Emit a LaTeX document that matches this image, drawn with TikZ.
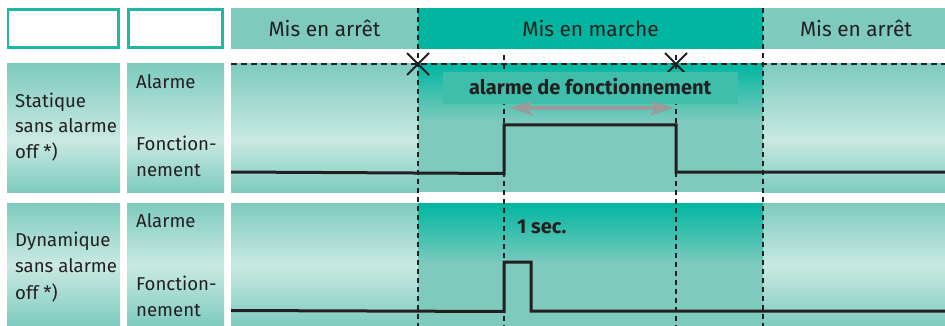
\documentclass[tikz,border=0pt]{standalone}
\usepackage{fontspec}
\setmainfont{Fira Sans}
\usetikzlibrary{arrows.meta}
\definecolor{tealL}{HTML}{7ECBBE}
\definecolor{tealD}{HTML}{00B6A1}
\definecolor{tealW}{HTML}{C9E9E2}
\definecolor{tealB}{HTML}{1DB9A5}
\definecolor{boxC}{HTML}{3FBEAB}
\definecolor{arrC}{HTML}{9B9B9B}
\definecolor{lineC}{HTML}{231F20}
\begin{document}
\begin{tikzpicture}[x=1pt,y=-1pt,
  font=\fontsize{18.6}{26}\selectfont,
  lbl/.style={anchor=base west, inner sep=0pt, text=lineC},
  hdr/.style={anchor=base, inner sep=0pt, text=lineC, font=\fontsize{20.8}{26}\selectfont},
  bld/.style={anchor=base west, inner sep=0pt, text=lineC, font=\fontsize{20}{26}\selectfont\bfseries},
  vdash/.style={draw=lineC, line width=1.8pt, dash pattern=on 5pt off 4pt},
  hdash/.style={draw=lineC, line width=1.6pt, dash pattern=on 6pt off 4pt},
  sig/.style={draw=lineC, line width=3pt, line join=miter},
  xmark/.style={draw=lineC, line width=2pt},
  dblarrow/.style={draw=arrC, line width=4pt,
    {Stealth[length=24pt,width=15pt,inset=6pt]}-{Stealth[length=24pt,width=15pt,inset=6pt]}}]
\useasboundingbox (0,0) rectangle (945,326);
% header
\draw[tealB, line width=2.2pt, fill=white] (8,9.5) rectangle (118.5,47.5);
\draw[tealB, line width=2.2pt, fill=white] (128.5,9.5) rectangle (222.5,47.5);
\fill[tealL] (231,8) rectangle (418,49);
\fill[tealD] (418,8) rectangle (763,49);
\fill[tealL] (763,8) rectangle (945,49);
% row backgrounds
\foreach \a/\b in {7/120, 127/224, 231/418, 763/945}{
  \shade[top color=tealL, bottom color=tealW] (\a,64) rectangle (\b,140);
  \shade[top color=tealW, bottom color=tealL] (\a,140) rectangle (\b,192);
  \shade[top color=tealL, bottom color=tealW] (\a,203) rectangle (\b,265);
  \shade[top color=tealW, bottom color=tealL] (\a,265) rectangle (\b,326);
}
\shade[top color=tealD, bottom color=tealL] (418,64) rectangle (763,122);
\fill[tealL] (418,122) rectangle (763,192);
\shade[top color=tealD, bottom color=tealL] (418,203) rectangle (763,265);
\fill[tealL] (418,265) rectangle (763,326);
% dashed lines
\draw[hdash] (231,64) -- (945,64);
\draw[vdash] (418,8) -- (418,326);
\draw[vdash] (763,8) -- (763,326);
\draw[vdash] (504,55) -- (504,326);
\draw[vdash] (676,55) -- (676,326);
% crosses
\draw[xmark] (407,53) -- (429,75) (407,75) -- (429,53);
\draw[xmark] (665,53) -- (687,75) (665,75) -- (687,53);
% alarm box
\fill[boxC] (443,72) rectangle (738,104);
\node[bld] (alf) at (469,95) {alarme de fonctionnement};
\coordinate (arrL) at (509,108);
\coordinate (arrR) at (674,108);
\draw[dblarrow] (arrL) -- (arrR);
% signals
\draw[sig] (231,172) -- (504,173.5) -- (504,125) -- (676,125) -- (676,172) -- (945,172);
\draw[sig] (231,310.5) -- (504,311.5) -- (504,262) -- (531,262) -- (531,311) -- (945,311);
% header texts
\node[hdr] (h1) at (324.5,36.7) {Mis en arrêt};
\node[hdr] (h2) at (590.5,36.7) {Mis en marche};
\node[hdr] (h3) at (856,36.7) {Mis en arrêt};
% row 1 labels
\node[lbl] (s1) at (15,107.3) {Statique};
\node[lbl] (s2) at (15,133) {sans alarme};
\node[lbl] (s3) at (15,159) {off *)};
\node[lbl] (a1) at (136,88.3) {Alarme};
\node[lbl] (f1) at (136,150.7) {Fonction-};
\node[lbl] (n1) at (136,176.5) {nement};
% row 2 labels
\node[lbl] (d1) at (15,246.3) {Dynamique};
\node[lbl] (d2) at (15,272.8) {sans alarme};
\node[lbl] (d3) at (15,299) {off *)};
\node[lbl] (a2) at (136,227) {Alarme};
\node[lbl] (f2) at (136,290.3) {Fonction-};
\node[lbl] (n2) at (136,316.3) {nement};
\node[bld] (sec) at (517,233) {1 sec.};
\end{tikzpicture}
\end{document}
